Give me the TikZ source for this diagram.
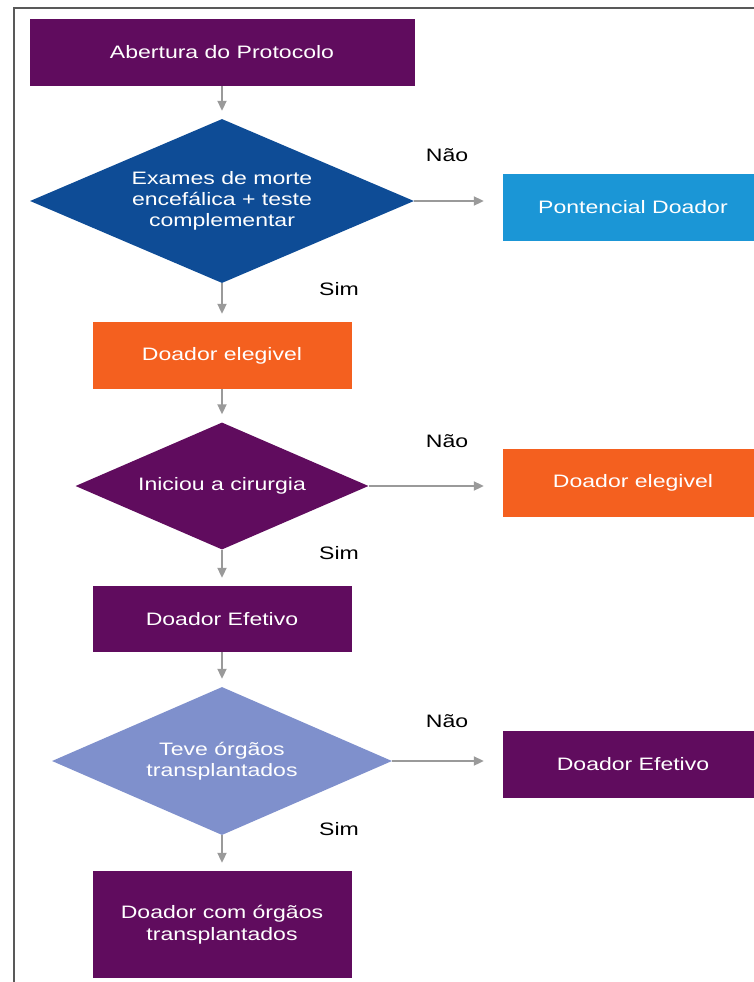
\documentclass[tikz,border=0pt]{standalone}
\usepackage{fontspec}
\setmainfont{Liberation Sans}[FakeStretch=1.28]
\usetikzlibrary{arrows.meta,shapes.geometric}

\definecolor{roxo}{HTML}{600C5E}
\definecolor{azulescuro}{HTML}{0E4C96}
\definecolor{azulclaro}{HTML}{1B96D6}
\definecolor{laranja}{HTML}{F4601F}
\definecolor{lilas}{HTML}{7F90CC}
\definecolor{cinza}{HTML}{9A9A9A}

\begin{document}
\begin{tikzpicture}[x=1pt,y=-1pt,>={Triangle[length=10pt,width=9pt]},
	caixa/.style={rectangle,fill=#1,text=white,minimum width=259pt,minimum height=67pt,inner sep=0pt,align=center,font=\fontsize{18}{22}\selectfont},
	losango/.style={diamond,aspect=2.3,fill=#1,text=white,inner sep=0pt,align=center,font=\fontsize{18}{21}\selectfont},
	rotulo/.style={font=\fontsize{18}{21}\selectfont,inner sep=0pt},
	seta/.style={->,draw=cinza,line width=2pt,shorten >=8pt}]
		\useasboundingbox (0,0) rectangle (754,982);
		% The frame
		\draw[color=gray!70!black,line width=1.2pt] (14,995) -- (14,8) -- (760,8);

		% The main column
		\node[caixa=roxo,minimum width=385pt] (abertura) at (222,52.5) {Abertura do Protocolo};
		\node[losango=azulescuro,minimum width=384pt,minimum height=164pt] (exames) at (222,201) {Exames de morte\\encefálica + teste\\complementar};
		\node[caixa=laranja] (elegivel) at (222,355.5) {Doador elegivel};
		\node[losango=roxo,minimum width=293pt,minimum height=127pt] (cirurgia) at (222,486) {Iniciou a cirurgia};
		\node[caixa=roxo,minimum height=66pt] (efetivo) at (222,619) {Doador Efetivo};
		\node[losango=lilas,minimum width=340pt,minimum height=148pt] (orgaos) at (222,761) {Teve órgãos\\transplantados};
		\node[caixa=roxo,minimum height=107pt] (transpl) at (222,924.5) {Doador com órgãos\\transplantados};

		% The side boxes
		\node[caixa=azulclaro,minimum width=260pt] (potencial) at (633,207.5) {Pontencial Doador};
		\node[caixa=laranja,minimum width=260pt,minimum height=68pt] (elegivel2) at (633,483) {Doador elegivel};
		\node[caixa=roxo,minimum width=260pt] (efetivo2) at (633,764.5) {Doador Efetivo};

		% The answers
		\node[rotulo] (nao1) at (447,155) {Não};
		\node[rotulo] (nao2) at (447,441) {Não};
		\node[rotulo] (nao3) at (447,721) {Não};
		\node[rotulo] (sim1) at (339,289) {Sim};
		\node[rotulo] (sim2) at (339,553) {Sim};
		\node[rotulo] (sim3) at (339,829) {Sim};

		% The arrows
		\draw[seta] (abertura) -- (exames);
		\draw[seta] (exames.south) -- (elegivel);
		\draw[seta] (elegivel) -- (cirurgia);
		\draw[seta] (cirurgia.south) -- (efetivo);
		\draw[seta] (efetivo) -- (orgaos);
		\draw[seta] (orgaos.south) -- (transpl);
		\draw[seta,shorten >=19pt] (exames.east) -- (exames.east -| potencial.west);
		\draw[seta,shorten >=19pt] (cirurgia.east) -- (cirurgia.east -| elegivel2.west);
		\draw[seta,shorten >=19pt] (orgaos.east) -- (orgaos.east -| efetivo2.west);
	\end{tikzpicture}
\end{document}
